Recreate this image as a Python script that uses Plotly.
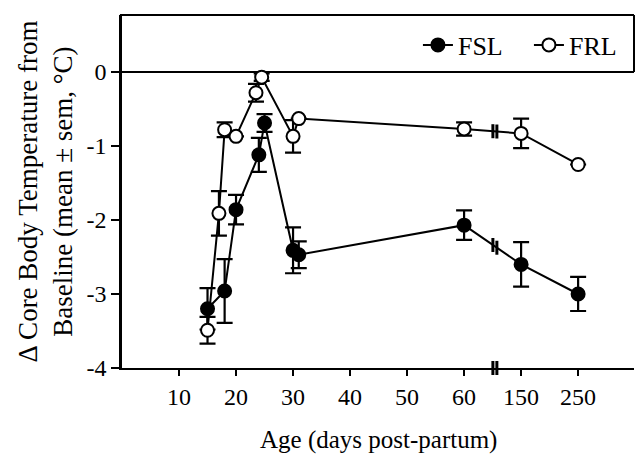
import plotly.graph_objects as go

# ---- data ----
ages_fsl = [15, 18, 20, 24, 25, 30, 31, 60, 150, 250]
fsl_mean = [-3.20, -2.96, -1.86, -1.12, -0.69, -2.41, -2.47, -2.07, -2.60, -3.00]
fsl_sem = [0.28, 0.43, 0.20, 0.23, 0.12, 0.31, 0.18, 0.20, 0.30, 0.23]

ages_frl = [15, 17, 18, 20, 23.5, 24.5, 30, 31, 60, 150, 250]
frl_mean = [-3.49, -1.91, -0.78, -0.87, -0.28, -0.07, -0.87, -0.63, -0.77, -0.83, -1.25]
frl_sem = [0.18, 0.30, 0.10, 0.0, 0.12, 0.05, 0.22, 0.0, 0.09, 0.20, 0.0]

x_tick_ages = [10, 20, 30, 40, 50, 60, 150, 250]
y_ticks = [0, -1, -2, -3, -4]


# broken x axis: linear up to 60 days, compressed (1/10) beyond the break
def axis_pos(age):
    return age if age <= 60 else 55 + age / 10.0


BREAK_POS = 65.4
FONT = "Liberation Serif"

fig = go.Figure()

for name, ages, mean, sem, fill, size in [
    ("FSL", ages_fsl, fsl_mean, fsl_sem, "black", 13),
    ("FRL", ages_frl, frl_mean, frl_sem, "white", 13),
]:
    fig.add_trace(go.Scatter(
        x=[axis_pos(a) for a in ages], y=mean, name=name,
        mode="lines+markers",
        line=dict(color="black", width=2),
        marker=dict(symbol="circle", size=size, color=fill,
                    line=dict(color="black", width=2)),
        error_y=dict(type="data", array=sem, visible=True,
                     color="black", thickness=2.2, width=8),
        cliponaxis=False,
    ))

# break marks on each line, between the 60 and 150 day points
for ages, mean in [(ages_fsl, fsl_mean), (ages_frl, frl_mean)]:
    i60 = ages.index(60)
    x0, x1 = axis_pos(ages[i60]), axis_pos(ages[i60 + 1])
    y0, y1 = mean[i60], mean[i60 + 1]
    ys = [y0 + (y1 - y0) * ((BREAK_POS + d) - x0) / (x1 - x0) for d in (-0.35, 0.35)]
    fig.add_trace(go.Scatter(
        x=[BREAK_POS - 0.35, BREAK_POS + 0.35], y=ys, mode="markers",
        marker=dict(symbol="line-ns", size=10, line=dict(color="black", width=3)),
        showlegend=False, hoverinfo="skip", cliponaxis=False,
    ))

# break mark on the x axis
fig.add_trace(go.Scatter(
    x=[BREAK_POS - 0.35, BREAK_POS + 0.35], y=[-4, -4], mode="markers",
    marker=dict(symbol="line-ns", size=10, line=dict(color="black", width=3)),
    showlegend=False, hoverinfo="skip", cliponaxis=False,
))

# legend frame: top border and right border down to the zero line
fig.add_shape(type="line", xref="paper", yref="paper", x0=-0.004, x1=1, y0=1, y1=1,
              line=dict(color="black", width=2))
fig.add_shape(type="line", xref="paper", yref="y", x0=1, x1=1, y0=0, y1=0.77,
              line=dict(color="black", width=2))

fig.add_annotation(
    text="Δ Core Body Temperature from<br>Baseline (mean ± sem, °C)",
    xref="paper", yref="paper", x=0, y=0.5, xshift=-77, xanchor="center", yanchor="middle",
    textangle=-90, showarrow=False, font=dict(family=FONT, size=27, color="black"),
)
fig.add_annotation(
    text="Age (days post-partum)", xref="paper", yref="paper", x=0.5, y=0,
    yshift=-72, xanchor="center", yanchor="middle", showarrow=False,
    font=dict(family=FONT, size=25, color="black"),
)

fig.update_layout(
    width=636, height=455,
    margin=dict(l=122, r=2, t=15, b=87, autoexpand=False),
    paper_bgcolor="white", plot_bgcolor="white",
    font=dict(family=FONT, size=22, color="black"),
    showlegend=True,
    legend=dict(orientation="h", x=0.578, xanchor="left", y=0.915, yanchor="middle",
                bgcolor="rgba(0,0,0,0)", font=dict(family=FONT, size=26),
                itemwidth=30, tracegroupgap=0,
                entrywidth=66, entrywidthmode="pixels"),
    xaxis=dict(range=[0, 89.8], showgrid=False, zeroline=False,
               showline=True, linecolor="black", linewidth=2,
               ticks="outside", ticklen=6, tickwidth=2, tickcolor="black",
               tickvals=[axis_pos(a) for a in x_tick_ages],
               ticktext=[str(a) for a in x_tick_ages],
               tickfont=dict(family=FONT, size=24)),
    yaxis=dict(range=[-4, 0.77], showgrid=False,
               zeroline=True, zerolinecolor="black", zerolinewidth=2,
               showline=True, linecolor="black", linewidth=2.5,
               ticks="outside", ticklen=8, tickwidth=2, tickcolor="black",
               tickvals=y_ticks, ticktext=[str(v) for v in y_ticks],
               tickfont=dict(family=FONT, size=24)),
)

fig.write_html("out.html", config={"displayModeBar": False},
               post_script="document.body.style.margin='0';document.body.style.overflow='hidden';")
